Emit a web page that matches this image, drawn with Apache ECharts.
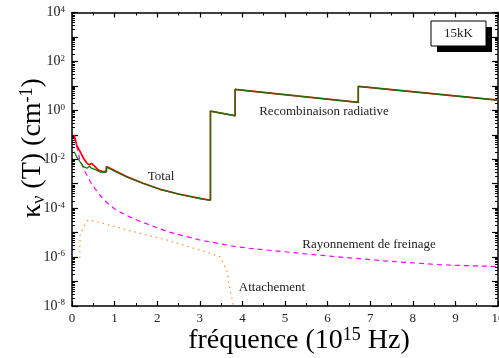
<!DOCTYPE html>
<html>
<head>
<meta charset="utf-8">
<script src="https://cdn.jsdelivr.net/npm/echarts@6/dist/echarts.min.js"></script>
<style>
  html, body {margin: 0; padding: 0; background: #fff;}
  #chart {width: 499px; height: 358px;}
</style>
</head>
<body>
<div id="chart"></div>
<script>
// frequency in 10^15 Hz, kappa in cm^-1
const totalFreq = [0.05, 0.11, 0.19, 0.27, 0.35, 0.41, 0.46, 0.54, 0.62, 0.73, 0.81, 0.81, 1.28, 1.67, 2.07, 2.5, 3.0, 3.25, 3.25, 3.83, 3.83, 4.15, 6.72, 6.72, 10]
const totalKappa = [0.098, 0.038, 0.0204, 0.011, 0.0068, 0.0059, 0.0068, 0.0050, 0.0036, 0.0031, 0.0031, 0.0050, 0.00195, 0.00105, 5.9e-4, 3.8e-4, 2.5e-4, 2.1e-4, 0.93, 0.60, 7.2, 6.3, 2.1, 9.5, 2.6]

const recombFreq = [0.05, 0.11, 0.19, 0.27, 0.35, 0.41, 0.46, 0.58, 0.66, 0.79, 0.81, 0.81, 1.28, 1.67, 2.07, 2.5, 3.0, 3.25, 3.25, 3.83, 3.83, 4.15, 6.72, 6.72, 10]
const recombKappa = [0.0204, 0.0126, 0.0079, 0.0050, 0.0043, 0.0052, 0.0043, 0.0036, 0.0030, 0.0029, 0.0029, 0.0048, 0.00188, 0.00102, 5.8e-4, 3.75e-4, 2.48e-4, 2.1e-4, 0.93, 0.60, 7.2, 6.3, 2.1, 9.5, 2.6]

const bremsFreq = [0.06, 0.19, 0.31, 0.42, 0.54, 0.66, 0.82, 1.0, 1.13, 1.4, 1.67, 2.23, 3.0, 3.78, 4.15, 5.73, 7.28, 8.69, 10]
const bremsKappa = [0.081, 0.0085, 0.0030, 0.00129, 6.3e-4, 3.3e-4, 1.66e-4, 9.5e-5, 6.9e-5, 4.0e-5, 2.6e-5, 1.12e-5, 5.0e-6, 2.8e-6, 2.3e-6, 1.23e-6, 7.1e-7, 4.8e-7, 4.1e-7]

const attachFreq = [0.18, 0.19, 0.27, 0.38, 0.58, 1.44, 2.22, 3.0, 3.47, 3.63, 3.71, 3.79]
const attachKappa = [9.1e-7, 7.9e-6, 1.74e-5, 3.3e-5, 2.8e-5, 1.1e-5, 5.0e-6, 1.95e-6, 1.05e-6, 2.95e-7, 4.5e-8, 1e-8]

const decades = [1e-8, 1e-7, 1e-6, 1e-5, 1e-4, 1e-3, 1e-2, 1e-1, 1, 10, 100, 1000, 10000]
const labelDecades = [1e-8, 1e-6, 1e-4, 1e-2, 1, 100, 10000]
const minorTicks = []
decades.slice(0, -1).forEach(d => {
  for (let k = 2; k <= 9; k++) minorTicks.push(d * k)
})

const zip = (xs, ys) => xs.map((x, i) => [x, ys[i]])

const serif = 'Liberation Serif'
const ink = '#222'

const chart = echarts.init(document.getElementById('chart'))

const xBase = {
  type: 'value',
  min: 0,
  max: 10,
  interval: 1,
  axisLine: {show: true, lineStyle: {color: '#000', width: 1.5}},
  axisTick: {show: true, inside: true, length: 5, lineStyle: {color: '#000', width: 1.2}},
  minorTick: {show: true, splitNumber: 2, length: 3, lineStyle: {color: '#000', width: 1}},
  splitLine: {show: false},
  minorSplitLine: {show: false},
}

const yBase = {
  type: 'log',
  logBase: 10,
  min: 1e-8,
  max: 1e4,
  splitLine: {show: false},
  axisLabel: {show: false},
}

const tick = (vals, len, w) => ({
  show: true, inside: true, length: len, customValues: vals,
  lineStyle: {color: '#000', width: w},
})

chart.setOption({
  animation: false,
  grid: {left: 72, right: 1, top: 12.5, bottom: 52, containLabel: false, outerBoundsMode: 'none'},
  xAxis: [
    Object.assign({}, xBase, {
      position: 'bottom',
      axisLabel: {show: true, fontFamily: serif, fontSize: 13, color: ink, margin: 6},
    }),
    Object.assign({}, xBase, {
      position: 'top',
      axisLabel: {show: false},
    }),
  ],
  yAxis: [
    Object.assign({}, yBase, {
      position: 'left',
      offset: 0,
      axisLine: {show: true, lineStyle: {color: '#000', width: 1.5}},
      axisTick: tick(decades, 6, 1.2),
      axisLabel: {
        show: true,
        customValues: labelDecades,
        margin: 7,
        fontFamily: serif,
        fontSize: 14,
        color: ink,
        formatter: v => '10{s|' + Math.round(Math.log10(v)) + '}',
        rich: {s: {fontFamily: serif, fontSize: 9, color: ink, verticalAlign: 'top', padding: [0, 0, 6, 0]}},
      },
    }),
    Object.assign({}, yBase, {
      position: 'left',
      offset: 0,
      axisLine: {show: false},
      axisTick: tick(minorTicks, 3, 1),
    }),
    Object.assign({}, yBase, {
      position: 'right',
      offset: 0,
      axisLine: {show: true, lineStyle: {color: '#000', width: 1.5}},
      axisTick: tick(decades, 6, 1.2),
    }),
    Object.assign({}, yBase, {
      position: 'right',
      offset: 0,
      axisLine: {show: false},
      axisTick: tick(minorTicks, 3, 1),
    }),
  ],
  series: [
    {
      name: 'Attachement',
      type: 'line',
      data: zip(attachFreq, attachKappa),
      showSymbol: false,
      lineStyle: {color: '#ff9a3c', width: 1.3, type: [1.5, 4]},
    },
    {
      name: 'Rayonnement de freinage',
      type: 'line',
      data: zip(bremsFreq, bremsKappa),
      showSymbol: false,
      lineStyle: {color: '#ff00ff', width: 1.2, type: [5, 4]},
    },
    {
      name: 'Total',
      type: 'line',
      data: zip(totalFreq, totalKappa),
      showSymbol: false,
      lineStyle: {color: '#ff0000', width: 1.7},
    },
    {
      name: 'Recombinaison radiative',
      type: 'line',
      data: zip(recombFreq, recombKappa),
      showSymbol: false,
      lineStyle: {color: '#0a7a0a', width: 1.3},
    },
  ],
  graphic: [
    {type: 'rect', shape: {x: 437, y: 27, width: 55, height: 25}, style: {fill: '#000'}},
    {type: 'rect', shape: {x: 431, y: 21, width: 55, height: 25}, style: {fill: '#fff', stroke: '#000', lineWidth: 1}},
    {type: 'text', x: 458.5, y: 33.5, style: {text: '15kK', font: '13px "Liberation Serif"', fill: ink, align: 'center', verticalAlign: 'middle'}},
    {type: 'text', x: 161, y: 177, style: {text: 'Total', font: '13px "Liberation Serif"', fill: ink, align: 'center', verticalAlign: 'middle'}},
    {type: 'text', x: 324, y: 112, style: {text: 'Recombinaison radiative', font: '13px "Liberation Serif"', fill: ink, align: 'center', verticalAlign: 'middle'}},
    {type: 'text', x: 369, y: 245, style: {text: 'Rayonnement de freinage', font: '13px "Liberation Serif"', fill: ink, align: 'center', verticalAlign: 'middle'}},
    {type: 'text', x: 272, y: 288, style: {text: 'Attachement', font: '13px "Liberation Serif"', fill: ink, align: 'center', verticalAlign: 'middle'}},
    {
      type: 'text', x: 299, y: 341,
      style: {
        text: 'fréquence (10{s|15} Hz)',
        font: '28px "Liberation Serif"', fill: '#000', align: 'center', verticalAlign: 'middle',
        rich: {s: {fontFamily: serif, fontSize: 18, fill: '#000', verticalAlign: 'top', padding: [0, 0, 12, 0]}},
      },
    },
    {
      type: 'text', x: 33, y: 148, rotation: Math.PI / 2,
      style: {
        text: 'κ{v|ν} (T) (cm{s|-1})',
        font: '28px "Liberation Serif"', fill: '#000', align: 'center', verticalAlign: 'middle',
        rich: {
          v: {fontFamily: serif, fontSize: 18, fill: '#000', verticalAlign: 'bottom', padding: [8, 0, 0, 0]},
          s: {fontFamily: serif, fontSize: 18, fill: '#000', verticalAlign: 'top', padding: [0, 0, 12, 0]},
        },
      },
    },
  ],
})
</script>
</body>
</html>
